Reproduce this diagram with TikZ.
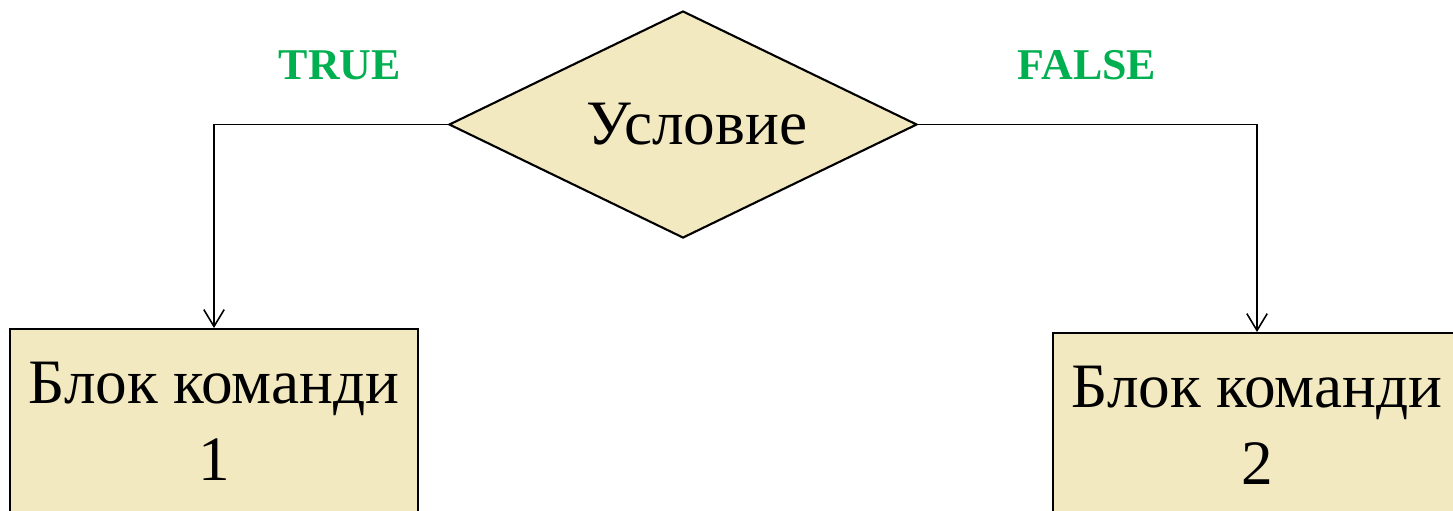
\documentclass[tikz,border=0pt]{standalone}
\usepackage{fontspec}
\setmainfont{Liberation Serif}
\usepackage{xcolor}
\usepackage{tikz}
\usetikzlibrary{shapes,arrows,positioning,calc,arrows.meta}

\definecolor{blockfill}{RGB}{243,233,193}
\definecolor{labelgreen}{RGB}{0,176,80}

\tikzset{
    decision/.style={diamond, draw, line width=0.6pt, fill=blockfill, inner sep=0pt, aspect=2.06,
        minimum width=4.68cm, minimum height=2.27cm, font=\fontsize{18}{23}\selectfont},
    cmdblock/.style={rectangle, draw, line width=0.6pt, fill=blockfill, align=center,
        minimum width=4.08cm, minimum height=1.84cm, anchor=north, font=\fontsize{18}{22}\selectfont},
    branch/.style={font=\bfseries\fontsize{12.5}{15}\selectfont, text=labelgreen},
    flow/.style={-{Straight Barb[length=4.8pt,width=5.8pt]}, line width=0.45pt}
}

\begin{document}
\begin{tikzpicture}
    \useasboundingbox (0,0) rectangle (14.53,-5.10);

    % Condition
    \node[decision] (cond) at (6.83,-1.245) {\hspace*{0.28cm}Условие};

    % Command blocks
    \node[cmdblock] (block1) at (2.14,-3.28) {Блок команди\\1};
    \node[cmdblock] (block2) at (12.57,-3.32) {Блок команди\\2};

    % Branches
    \draw[flow] (cond.west) -| (block1.north);
    \draw[flow] (cond.east) -| (block2.north);

    \node[branch] (true) at (3.40,-0.65) {TRUE};
    \node[branch] (false) at (10.87,-0.65) {FALSE};
\end{tikzpicture}
\end{document}
